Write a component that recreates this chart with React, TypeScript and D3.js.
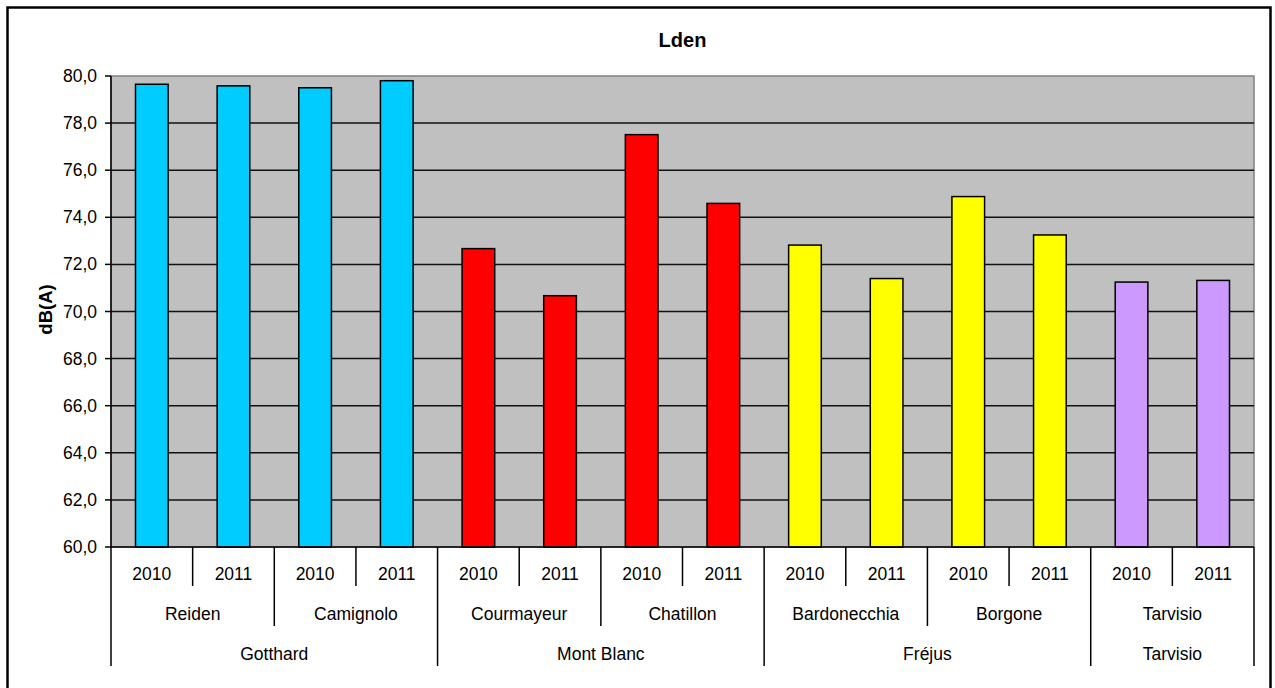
import React from "react";
import * as d3 from "d3";

const stations = ["Reiden", "Camignolo", "Courmayeur", "Chatillon", "Bardonecchia", "Borgone", "Tarvisio"];
const tunnelOf = ["Gotthard", "Gotthard", "Mont Blanc", "Mont Blanc", "Fréjus", "Fréjus", "Tarvisio"];
const tunnels = ["Gotthard", "Mont Blanc", "Fréjus", "Tarvisio"];
const years = ["2010", "2011"];
const values2010 = [79.65, 79.5, 72.67, 77.51, 72.82, 74.88, 71.25];
const values2011 = [79.58, 79.8, 70.67, 74.59, 71.4, 73.25, 71.32];
const tunnelColors = ["#00CCFF", "#FF0000", "#FFFF00", "#CC99FF"];
const yTicks = [60, 62, 64, 66, 68, 70, 72, 74, 76, 78, 80];

const W = 1275, H = 688;
const L = 111, R = 1254, T = 76, B = 547;
const FONT = "'Liberation Sans', Arial, sans-serif";
const FS = 17.5;

export default function App() {
  const bars = stations.flatMap((s, i) => [
    { key: `${s}-2010`, station: s, tunnel: tunnelOf[i], year: years[0], v: values2010[i] },
    { key: `${s}-2011`, station: s, tunnel: tunnelOf[i], year: years[1], v: values2011[i] },
  ]);
  const x = d3.scaleBand<string>().domain(bars.map(b => b.key)).range([L, R]).paddingInner(0.6).paddingOuter(0.3);
  const y = d3.scaleLinear().domain([60, 80]).range([B, T]);
  const color = d3.scaleOrdinal<string, string>().domain(tunnels).range(tunnelColors);
  const step = x.step();
  const bx = (k: number) => L + k * step;
  const fmt = (v: number) => d3.format(".1f")(v).replace(".", ",");

  const tunnelSpans: { name: string; a: number; b: number }[] = [];
  tunnelOf.forEach((t, i) => {
    const last = tunnelSpans[tunnelSpans.length - 1];
    if (last && last.name === t) last.b = 2 * i + 2;
    else tunnelSpans.push({ name: t, a: 2 * i, b: 2 * i + 2 });
  });
  const groupBounds = new Set<number>();
  tunnelSpans.forEach(s => { groupBounds.add(s.a); groupBounds.add(s.b); });

  const seps = d3.range(0, bars.length + 1).map(k => {
    let y2 = 586;
    if (groupBounds.has(k)) y2 = 666;
    else if (k % 2 === 0) y2 = 626;
    return { k, y2 };
  });

  return (
    <svg width={W} height={H} style={{ position: "absolute", left: 0, top: 0 }} fontFamily={FONT}>
      <rect x={0} y={0} width={W} height={H} fill="#fff" />
      <rect x={7.5} y={7.5} width={1263} height={690} fill="none" stroke="#000" strokeWidth={2.5} />
      <text x={(L + R) / 2} y={47} textAnchor="middle" fontWeight="bold" fontSize={20}>Lden</text>
      <text transform={`translate(45,${(T + B) / 2 - 2}) rotate(-90)`} textAnchor="middle" dominantBaseline="central" fontWeight="bold" fontSize={18.5}>dB(A)</text>
      <rect x={L} y={T} width={R - L} height={B - T} fill="#C0C0C0" stroke="#808080" strokeWidth={1.5} />
      {yTicks.slice(1, -1).map(t => (
        <line key={t} x1={L} x2={R} y1={y(t)} y2={y(t)} stroke="#111" strokeWidth={1.5} />
      ))}
      {bars.map(b => (
        <rect key={b.key} x={x(b.key)} y={y(b.v)} width={x.bandwidth()} height={y(60) - y(b.v)}
          fill={color(b.tunnel)} stroke="#000" strokeWidth={1.5} />
      ))}
      <line x1={L} x2={L} y1={T} y2={B} stroke="#000" strokeWidth={1.5} />
      <line x1={L} x2={R} y1={B} y2={B} stroke="#000" strokeWidth={1.5} />
      {yTicks.map(t => (
        <g key={t}>
          <line x1={105} x2={L} y1={y(t)} y2={y(t)} stroke="#000" strokeWidth={1.5} />
          <text x={97} y={y(t)} textAnchor="end" dominantBaseline="central" fontSize={FS}>{fmt(t)}</text>
        </g>
      ))}
      {seps.map(s => (
        <line key={s.k} x1={bx(s.k)} x2={bx(s.k)} y1={B} y2={s.y2} stroke="#000" strokeWidth={1.5} />
      ))}
      {bars.map((b, k) => (
        <text key={b.key} x={bx(k) + step / 2} y={574} textAnchor="middle" dominantBaseline="central" fontSize={FS}>{b.year}</text>
      ))}
      {stations.map((s, i) => (
        <text key={s} x={bx(2 * i + 1)} y={614} textAnchor="middle" dominantBaseline="central" fontSize={FS}>{s}</text>
      ))}
      {tunnelSpans.map(s => (
        <text key={s.name} x={(bx(s.a) + bx(s.b)) / 2} y={654} textAnchor="middle" dominantBaseline="central" fontSize={FS}>{s.name}</text>
      ))}
    </svg>
  );
}
